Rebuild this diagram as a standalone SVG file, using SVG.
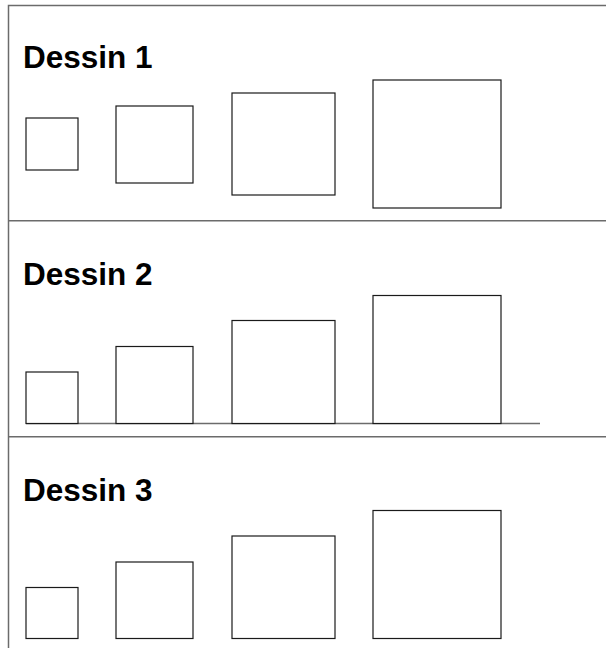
<svg xmlns="http://www.w3.org/2000/svg" width="606" height="648" viewBox="0 0 606 648">
<style>
.frame{fill:none;stroke:#6b6b6b;stroke-width:1.5}
.sq{fill:#fff;stroke:#1a1a1a;stroke-width:1.2}
.base{fill:none;stroke:#6b6b6b;stroke-width:1.5}
.title{font-family:"Liberation Sans",Arial,sans-serif;font-weight:bold;font-size:31.5px;fill:#000}
</style>
<rect x="0" y="0" width="606" height="648" fill="#fff"/>
<g id="frame">
<path class="frame" d="M8.5,648 V5.5 H606"/>
<path class="frame" d="M8.5,220.7 H606"/>
<path class="frame" d="M8.5,436.7 H606"/>
</g>
<g id="dessin1">
<text class="title" x="23" y="68">Dessin 1</text>
<rect class="sq" x="26" y="118" width="52" height="52"/>
<rect class="sq" x="116" y="106" width="77" height="77"/>
<rect class="sq" x="232" y="93" width="103" height="102"/>
<rect class="sq" x="373" y="80" width="128" height="128"/>
</g>
<g id="dessin2">
<text class="title" x="23" y="285">Dessin 2</text>
<path class="base" d="M26,423.5 H540"/>
<rect class="sq" x="26" y="372" width="52" height="51.5"/>
<rect class="sq" x="116" y="346.5" width="77" height="77"/>
<rect class="sq" x="232" y="320.5" width="103" height="103"/>
<rect class="sq" x="373" y="295.5" width="128" height="128"/>
</g>
<g id="dessin3">
<text class="title" x="23" y="501">Dessin 3</text>
<rect class="sq" x="26" y="587.5" width="52" height="51"/>
<rect class="sq" x="116" y="562" width="77" height="76.5"/>
<rect class="sq" x="232" y="536" width="103" height="102.5"/>
<rect class="sq" x="373" y="510.5" width="128" height="128"/>
</g>
</svg>
